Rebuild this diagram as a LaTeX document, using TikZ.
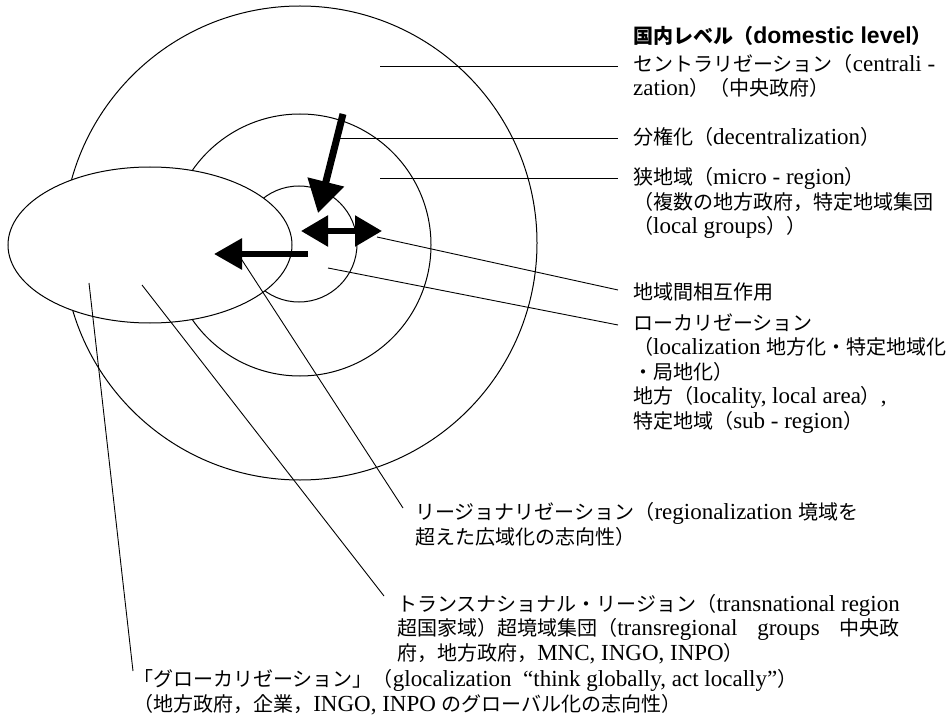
\documentclass[tikz,border=0pt]{standalone}
\usepackage{fontspec}
\setmainfont{Liberation Serif}
\newfontfamily\jpf[Scale=0.87]{Noto Sans CJK JP}
\newfontfamily\hsf{Liberation Sans}
\usetikzlibrary{arrows.meta}
\newcommand\jj[1]{{\jpf #1}}
\newlength\transw
\begin{document}
\begin{tikzpicture}[x=1pt,y=-1pt,
  lbl/.style={inner sep=0pt, anchor=base west, align=left, font=\fontsize{23}{24.5}\selectfont},
  ring/.style={draw=black, line width=1pt},
  leader/.style={draw=black, line width=0.9pt},
  bigarrow/.style={draw=black, fill=black, line width=6pt},
]
\fill[white] (0,0) rectangle (951,722);
\useasboundingbox (0,0) rectangle (951,722);

% rings
\draw[ring] (300,243) circle [radius=237];
\draw[ring] (300,245) circle [radius=131];
\draw[ring] (299,244) circle [radius=58];
% left ellipse on top
\draw[ring, fill=white] (150,245) ellipse [x radius=142, y radius=78];

% leader end points
\coordinate (s1) at (380,66);  \coordinate (e1) at (618,66);
\coordinate (s2) at (340,138); \coordinate (e2) at (618,138);
\coordinate (s3) at (380,178); \coordinate (e3) at (618,178);
\coordinate (s4) at (377,237); \coordinate (e4) at (618,290);
\coordinate (s5) at (328,268); \coordinate (e5) at (618,325);
\coordinate (s6) at (240,257); \coordinate (e6) at (403,508);
\coordinate (s7) at (142,285); \coordinate (e7) at (384,596);
\coordinate (s8) at (89,283);  \coordinate (e8) at (133,671);

\foreach \i in {1,...,8} {\draw[leader] (s\i) -- (e\i);}

% thick arrows
\coordinate (dA) at (343,114); \coordinate (dB) at (318,213);
\draw[bigarrow, line width=7pt, -{Triangle[length=32pt,width=36pt]}] (dA) -- (dB);
\coordinate (hA) at (301,231); \coordinate (hB) at (382,231);
\draw[bigarrow, line width=5.5pt, {Triangle[length=27pt,width=30pt]}-{Triangle[length=27pt,width=30pt]}] (hA) -- (hB);
\coordinate (lA) at (308,254); \coordinate (lB) at (214,254);
\draw[bigarrow, -{Triangle[length=28pt,width=30pt]}] (lA) -- (lB);

% labels (anchor = baseline of the last line)
\node[lbl] (head) at (633,44) {\bfseries\jj{国内レベル（}{\hsf domestic level}\jj{）}};
\node[lbl] (cent) at (633,96) {\jj{セントラリゼーション（}centrali -\\zation\jj{）（中央政府）}};
\node[lbl] (decen) at (633,145) {\jj{分権化（}decentralization\jj{）}};
\node[lbl] (micro) at (633,234) {\jj{狭地域（}micro - region\jj{）}\\\jj{（複数の地方政府，特定地域集団}\\\jj{（}local groups\jj{））}};
\node[lbl] (inter) at (633,299) {\jj{地域間相互作用}};
\node[lbl] (local) at (633,428) {\jj{ローカリゼーション}\\\jj{（}localization \jj{地方化・特定地域化}\\\jj{・局地化）}\\\jj{地方（}locality, local area\jj{）},\\\jj{特定地域（}sub - region\jj{）}};
\node[lbl] (region) at (415,544) {\jj{リージョナリゼーション（}regionalization \jj{境域を}\\\jj{超えた広域化の志向性）}};
\node[lbl] (trans) at (397,660) {\jj{トランスナショナル・リージョン（}transnational region\\\settowidth\transw{\jj{トランスナショナル・リージョン（}transnational region}\makebox[\transw][s]{\jj{超国家域）超境域集団（}transregional groups \jj{中央政}}\\\jj{府，地方政府，}MNC, INGO, INPO\jj{）}};
\node[lbl] (glocal) at (133,711) {\jj{「グローカリゼーション」（}glocalization\enspace “think globally, act locally”\jj{）}\\\jj{（地方政府，企業，}INGO, INPO \jj{のグローバル化の志向性）}};
\end{tikzpicture}
\end{document}
